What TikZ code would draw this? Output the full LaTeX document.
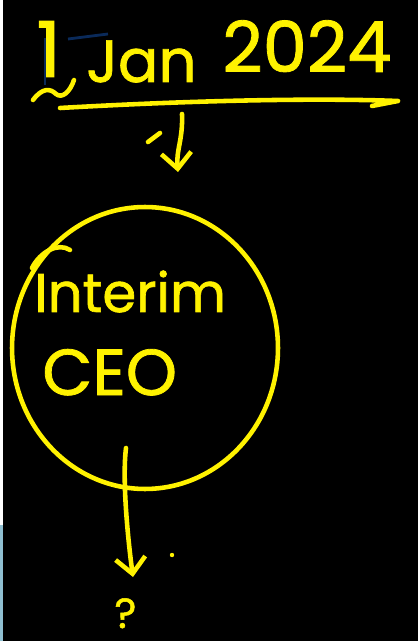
\documentclass[tikz,border=0pt]{standalone}
\usepackage{fontspec}
\setmainfont{Poppins}
\newfontfamily\handfont{Poppins}[FakeBold=1.2]
\usetikzlibrary{arrows.meta,shapes.geometric}
\definecolor{ink}{HTML}{FFF200}
\definecolor{navy}{HTML}{0A2A5A}
\definecolor{edgeblue}{HTML}{8FBFD0}
\tikzset{
  pen/.style={draw=ink, line width=2.6pt, line cap=round, line join=round},
  hand/.style={text=ink, inner sep=0pt},
  barb/.style={-{Straight Barb[length=9pt,width=17pt,line width=2.6pt]}},
}
\begin{document}
\begin{tikzpicture}[x=0.02cm,y=-0.02cm]
\useasboundingbox (0,0) rectangle (418,641);
% background
\fill[white] (0,0) rectangle (418,641);
\fill[black] (3,0) rectangle (418,641);
\fill[edgeblue] (0,525) rectangle (3,641);
% cursor marks
\draw[navy, line width=1.6pt] (45,38) -- (45,85);
\draw[navy, line width=1.6pt] (68,39) -- (108,34);
% date
\node[hand, anchor=base west, font=\handfont\fontsize{44}{48}\selectfont] (one) at (36,77) {1};
\node[hand, anchor=base west, font=\handfont\fontsize{34}{36}\selectfont] (jan) at (86,82) {Jan};
\node[hand, anchor=base west, font=\handfont\fontsize{40}{44}\selectfont] (year) at (222,72) {2024};
\path[pen] (33,100) .. controls (42,88) and (50,88) .. (56,94) .. controls (62,99) and (70,92) .. (74,80);
\coordinate (ulA) at (60,108);
\coordinate (ulB) at (398,101);
\draw[pen] (ulA) .. controls (200,100) and (320,98) .. (ulB) -- (372,106);
% first arrow
\coordinate (a1s) at (182,114);
\coordinate (a1e) at (178,172);
\draw[pen, barb] (a1s) .. controls (183,140) and (176,150) .. (a1e);
\draw[pen] (148,142) -- (160,133);
% circle
\node[draw=ink, line width=2.6pt, ellipse, minimum width=5.32cm, minimum height=5.64cm, inner sep=0pt] (circ) at (145,348) {};
\path[pen] (32,268) .. controls (40,252) and (58,242) .. (70,250);
\node[hand, anchor=base west, font=\handfont\fontsize{31}{34}\selectfont] (interim) at (34,312) {Interim};
\node[hand, anchor=base west, font=\handfont\fontsize{37}{40}\selectfont] (ceo) at (42,395) {CEO};
% second arrow
\coordinate (a2s) at (126,448);
\coordinate (a2e) at (133,577);
\draw[pen, barb] (a2s) .. controls (122,480) and (128,540) .. (a2e);
\fill[ink] (172,555) circle (2.2);
\node[hand, anchor=base west, font=\handfont\fontsize{24}{28}\selectfont] (q) at (114,628) {?};
\end{tikzpicture}
\end{document}
